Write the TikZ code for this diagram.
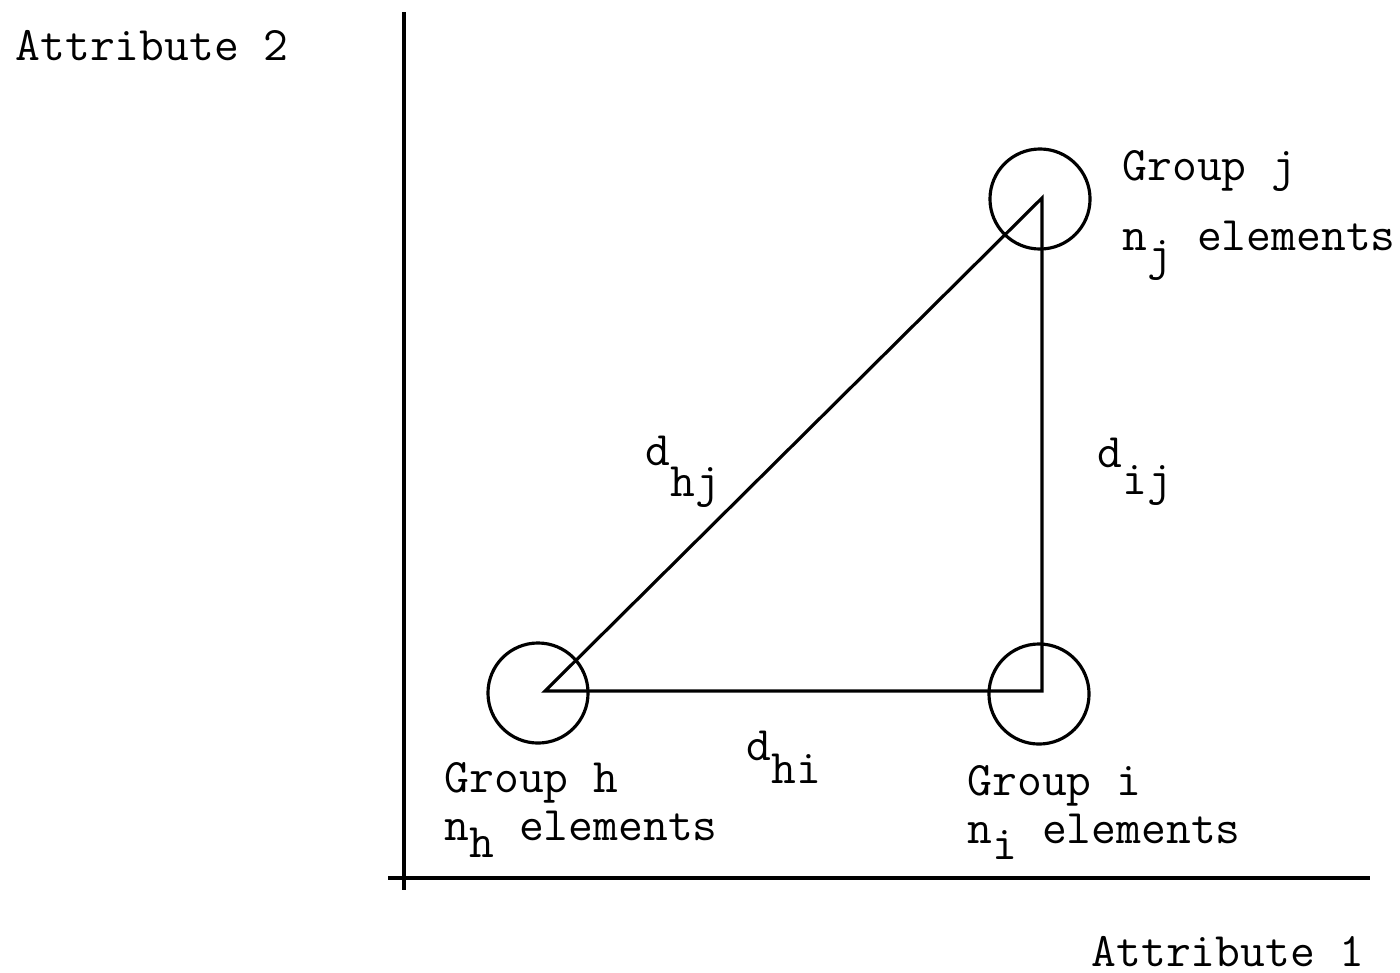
\documentclass[tikz,border=0pt]{standalone}
\newcommand\lowered[2]{\raisebox{-#1}{#2}}
\begin{document}
\begin{tikzpicture}[x=0.01cm,y=-0.01cm,
  lbl/.style={anchor=base west,inner sep=0pt,font=\ttfamily\fontsize{13.7pt}{16pt}\selectfont},
  grp/.style={draw,circle,minimum size=1cm,inner sep=0pt,line width=0.9pt},
  axisline/.style={line width=1.2pt},
  edge/.style={line width=0.9pt,line join=miter}]
\useasboundingbox (0,0) rectangle (1400,972);
% axes
\coordinate (ytop) at (404,12);
\coordinate (ybot) at (404,890);
\coordinate (xleft) at (388,878);
\coordinate (xright) at (1370,878);
\draw[axisline] (ytop) -- (ybot);
\draw[axisline] (xleft) -- (xright);
% group circles
\node[grp] (gj) at (1040,199) {};
\node[grp] (gh) at (538,693) {};
\node[grp] (gi) at (1039,694) {};
% triangle
\coordinate (vh) at (545,691);
\coordinate (vj) at (1042,198);
\coordinate (vi) at (1042,691);
\draw[edge] (vh) -- (vj) -- (vi) -- cycle;
% labels
\node[lbl] (a2) at (15,60) {Attribute 2};
\node[lbl] (a1) at (1091,966) {Attribute 1};
\node[lbl] (tj1) at (1122,180) {Group j};
\node[lbl] (tj2) at (1122,250) {n\lowered{0.19cm}{j} elements};
\node[lbl] (th1) at (444,792) {Group h};
\node[lbl] (th2) at (444,840) {n\lowered{0.17cm}{h} elements};
\node[lbl] (ti1) at (967,795) {Group i};
\node[lbl] (ti2) at (967,843) {n\lowered{0.16cm}{i} elements};
\node[lbl] (dhj) at (645,465) {d\lowered{0.31cm}{hj}};
\node[lbl] (dij) at (1097,467) {d\lowered{0.27cm}{ij}};
\node[lbl] (dhi) at (746,760) {d\lowered{0.23cm}{hi}};
\end{tikzpicture}
\end{document}
